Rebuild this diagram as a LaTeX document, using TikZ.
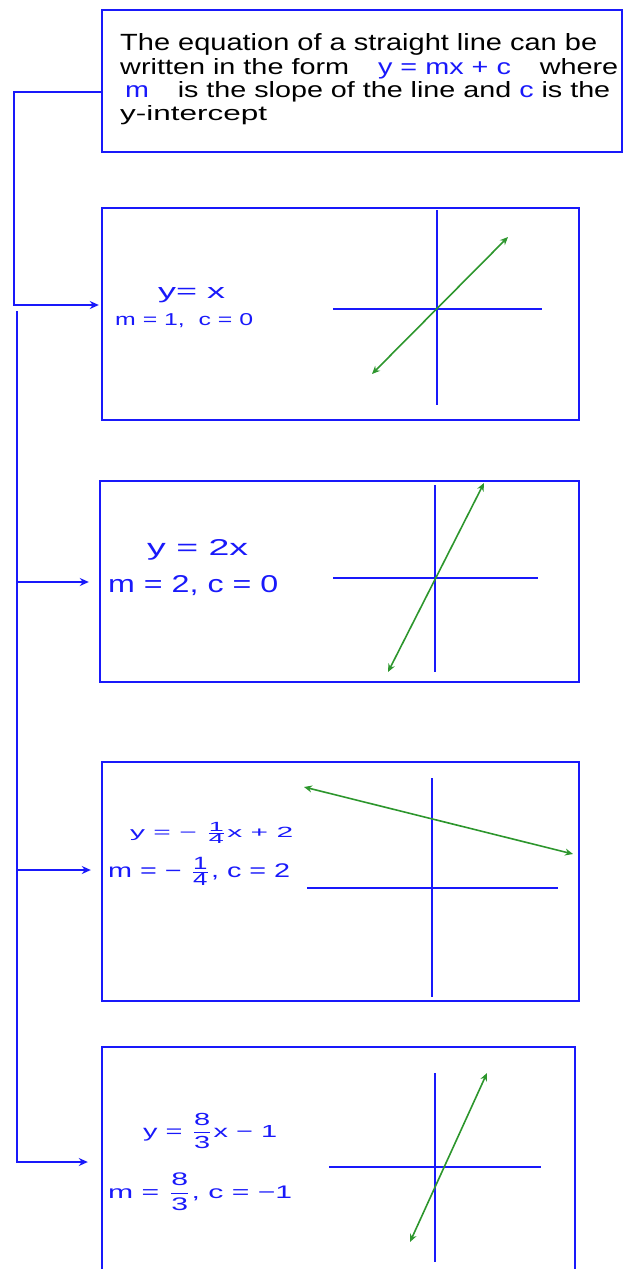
\documentclass[tikz,border=0pt]{standalone}
\usepackage{fontspec}
\usepackage{amsmath}
\setmainfont{Liberation Sans}
\usetikzlibrary{arrows.meta}
\definecolor{pblue}{RGB}{25,25,250}
\definecolor{pgreen}{RGB}{45,150,45}
\newcommand{\fr}[2]{\ensuremath{\dfrac{\text{#1}}{\text{#2}}}}
\newcommand{\frs}[2]{\ensuremath{\genfrac{}{}{0.5pt}{1}{\text{\small #1}}{\text{\small #2}}}}
\begin{document}
\begin{tikzpicture}[x=1pt,y=-1pt,
  panel/.style={draw=pblue,line width=2.4pt,inner sep=0pt},
  txt/.style={anchor=base west,inner sep=0pt},
  lab/.style={txt,text=pblue},
  axis/.style={draw=pblue,line width=2pt},
  gline/.style={draw=pgreen,line width=1.6pt,{Stealth[length=8pt,width=7pt]}-{Stealth[length=8pt,width=7pt]}},
  conn/.style={draw=pblue,line width=2.2pt},
  arr/.style={conn,-{Stealth[length=9pt,width=8pt]}}]
\path[use as bounding box] (0,0) rectangle (623,1269);
\clip (0,0) rectangle (623,1269);
% panels
\node[panel,minimum width=520pt,minimum height=142pt] (top) at (362,81) {};
\node[panel,minimum width=477pt,minimum height=212pt] (b2) at (340.5,314) {};
\node[panel,minimum width=479pt,minimum height=201pt] (b3) at (339.5,581.5) {};
\node[panel,minimum width=477pt,minimum height=239pt] (b4) at (340.5,881.5) {};
\node[panel,minimum width=473pt,minimum height=260pt] (b5) at (338.5,1177) {};
% top text
\node[txt] (l1) at (120,50) {\resizebox{477pt}{17pt}{The equation of a straight line can be}};
\node[txt] (l2) at (120,74) {\resizebox{498pt}{16pt}{written in the form\quad\textcolor{pblue}{y = mx + c}\quad where}};
\node[txt] (l3) at (125,97) {\resizebox{485pt}{16pt}{\textcolor{pblue}{m}\quad is the slope of the line and \textcolor{pblue}{c} is the}};
\node[txt] (l4) at (120,120) {\resizebox{147pt}{15pt}{y-intercept}};
% labels
\node[lab] (e2a) at (158,298) {\resizebox{67pt}{11pt}{y= x}};
\node[lab] (e2b) at (115,325) {\resizebox{138pt}{12pt}{m = 1,\ \ c = 0}};
\node[lab] (e3a) at (147,555) {\resizebox{101pt}{16pt}{y = 2x}};
\node[lab] (e3b) at (108,592) {\resizebox{170pt}{17pt}{m = 2, c = 0}};
\node[lab] (e4a) at (130,837) {\resizebox{163pt}{15pt}{y = − \frs{1}{4}x + 2}};
\node[lab] (e4b) at (108,877) {\resizebox{182pt}{20pt}{m = − \frs{1}{4}, c = 2}};
\node[lab] (e5a) at (143,1137) {\resizebox{134pt}{24pt}{y = \fr{8}{3}x − 1}};
\node[lab] (e5b) at (108,1198) {\resizebox{184pt}{25pt}{m = \fr{8}{3}, c = −1}};
% graphs
\draw[axis] (333,309) -- (542,309);
\draw[axis] (437,210) -- (437,405);
\draw[gline] (372,374) -- (508,237);
\draw[axis] (333,578) -- (538,578);
\draw[axis] (435,485) -- (435,672);
\draw[gline] (388,672) -- (484,483);
\draw[axis] (307,888) -- (558,888);
\draw[axis] (432,778) -- (432,997);
\draw[gline] (304,787) -- (573,854);
\draw[axis] (329,1167) -- (541,1167);
\draw[axis] (435,1073) -- (435,1262);
\draw[gline] (410,1242) -- (487,1073);
% connectors
\coordinate (k1) at (14,92);
\coordinate (k2) at (14,305);
\draw[arr,shorten >=2pt] (top.west |- k1) -- (k1) -- (k2) -- (b2.west |- k2);
\coordinate (t0) at (17,311);
\coordinate (t3) at (17,582);
\coordinate (t4) at (17,870);
\coordinate (t5) at (17,1162);
\draw[arr,shorten >=10pt] (t3) -- (b3.west |- t3);
\draw[arr,shorten >=10pt] (t4) -- (b4.west |- t4);
\draw[arr,shorten >=13pt] (t0) -- (t5) -- (b5.west |- t5);
\end{tikzpicture}
\end{document}
